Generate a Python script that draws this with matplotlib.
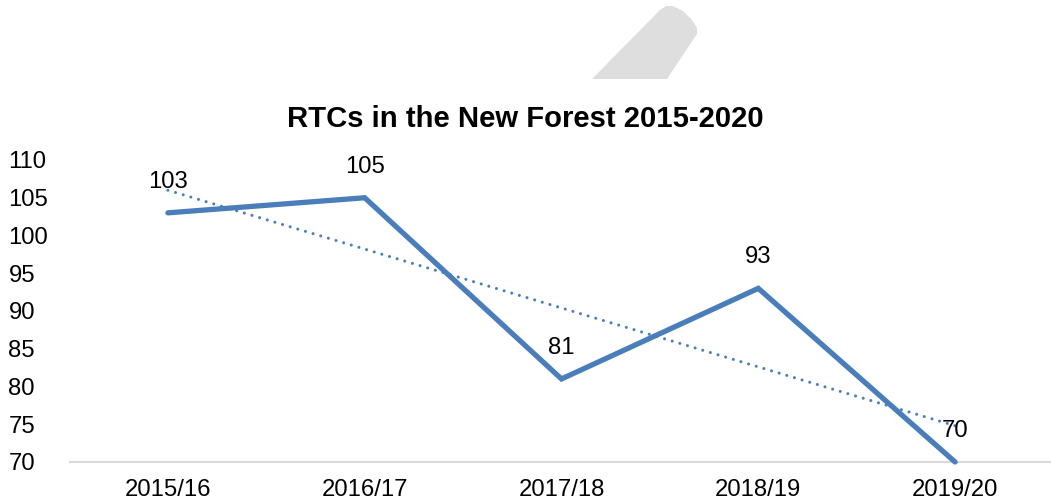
import numpy as np
import matplotlib
matplotlib.use("Agg")
import matplotlib.pyplot as plt
from matplotlib.patches import Polygon

categories = ["2015/16", "2016/17", "2017/18", "2018/19", "2019/20"]
values = [103, 105, 81, 93, 70]
yticks = [70, 75, 80, 85, 90, 95, 100, 105, 110]
title = "RTCs in the New Forest 2015-2020"

plt.rcParams['font.family'] = ['Liberation Sans', 'DejaVu Sans']

W, H = 1051, 503
fig = plt.figure(figsize=(W / 100, H / 100), dpi=100)
fig.patch.set_facecolor("white")

# decorative grey shape at top (clipped rotated rounded bar)
pts = [(592, 79), (660, 10), (666, 6), (673, 6), (683, 11), (692, 20), (697, 28),
       (697, 34), (667, 79)]
shape = Polygon([(px / W, 1 - py / H) for px, py in pts],
                closed=True, transform=fig.transFigure, facecolor="#DEDEDE",
                edgecolor="none")
fig.patches.append(shape)

ax_left = 69.5 / W
ax_w = 984 / W
ax_bottom = (H - 462) / H
ax_h = (462 - 160) / H
ax = fig.add_axes([ax_left, ax_bottom, ax_w, ax_h])
ax.set_facecolor("none")

x = np.arange(len(categories))
color = "#4A7EBB"
ax.plot(x, values, color=color, linewidth=3.8, solid_capstyle="round",
        solid_joinstyle="miter", zorder=3, clip_on=False)

# linear trendline
coef = np.polyfit(x, values, 1)
trend = np.polyval(coef, x)
ax.plot(x[[0, -1]], trend[[0, -1]], color=color, linewidth=2.2,
        linestyle=(0, (0.01, 2.6)), dash_capstyle="round", zorder=2, clip_on=False)

fs = 17.2
for xi, v in zip(x, values):
    ax.annotate(str(v), (xi, v), xytext=(0, 31), textcoords="offset pixels",
                ha="center", va="center", fontsize=fs, color="#000000", zorder=4)

ax.set_xlim(-0.5, len(categories) - 0.5)
ax.set_ylim(70, 110)
ax.set_yticks(yticks)
ax.set_yticklabels([str(t) for t in yticks])
ax.set_xticks(x)
ax.set_xticklabels(categories)
ax.tick_params(axis="both", length=0, labelsize=fs, colors="#000000")
ax.tick_params(axis="x", pad=12)
for lbl in ax.get_yticklabels():
    lbl.set_horizontalalignment("left")
ax.yaxis.set_tick_params(pad=44)

for side in ["top", "right", "left"]:
    ax.spines[side].set_visible(False)
ax.spines["bottom"].set_color("#D9D9D9")
ax.spines["bottom"].set_linewidth(1.5)

fig.text(0.5, 1 - 119 / H, title, ha="center", va="center", fontsize=21.1,
         fontweight="bold", color="#000000")

fig.savefig("out.png", dpi=100, facecolor="white")
